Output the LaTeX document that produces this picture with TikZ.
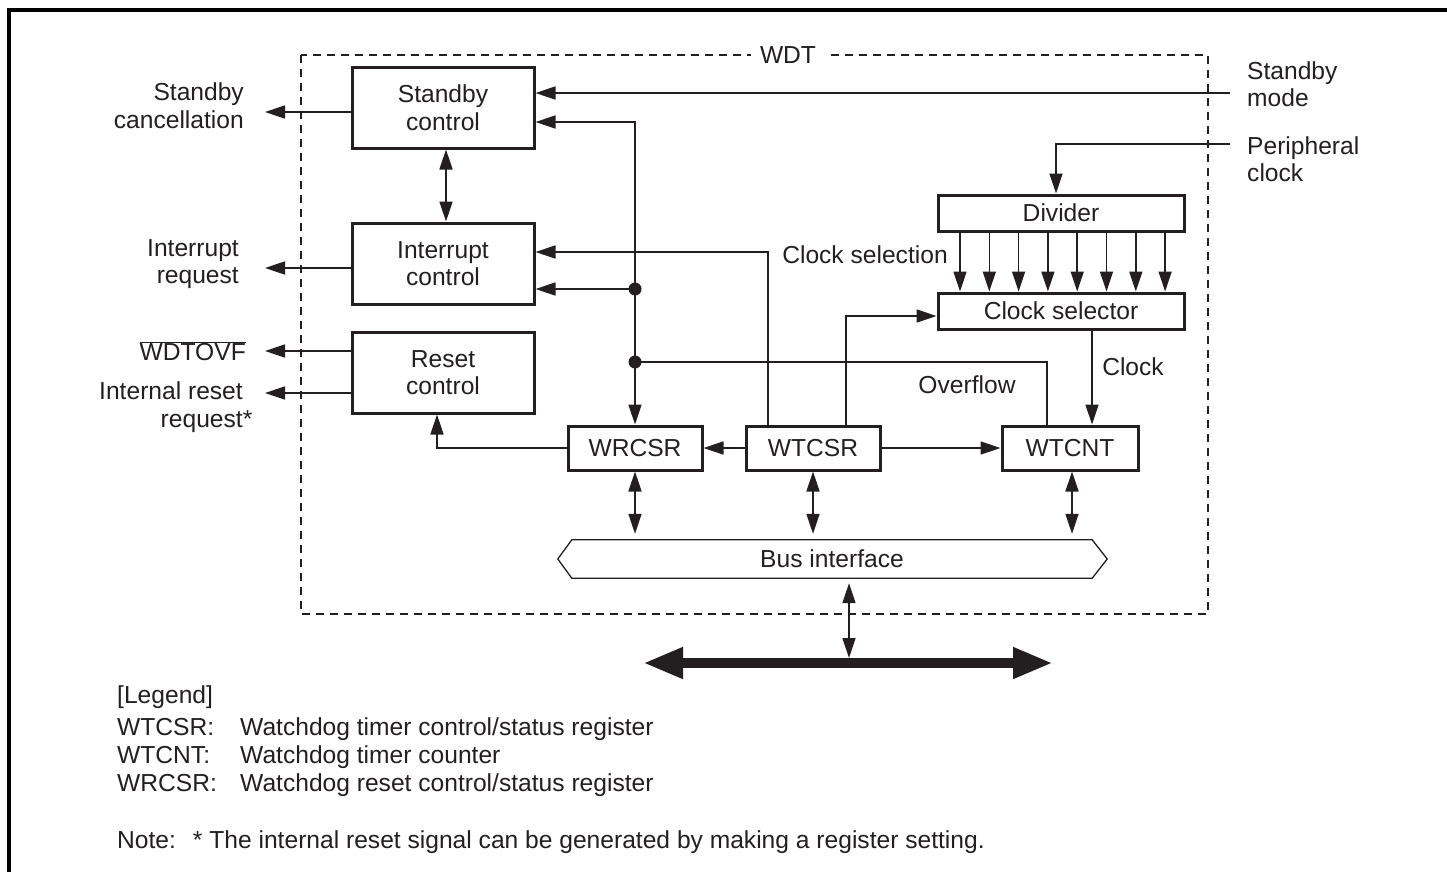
\documentclass[tikz,border=0pt]{standalone}
\usepackage{fontspec}
\setmainfont{Liberation Sans}
\usetikzlibrary{arrows.meta,calc}
\definecolor{ink}{RGB}{35,31,32}
\begin{document}
\begin{tikzpicture}[x=1pt,y=-1pt,
  every node/.style={font=\fontsize{24.6}{27.5}\selectfont, text=ink, inner sep=0pt},
  lin/.style={draw=ink, line width=1.6pt},
  arr/.style={lin, -{Triangle[length=20pt,width=13pt]}},
  darr/.style={lin, {Triangle[length=20pt,width=13pt]}-{Triangle[length=20pt,width=13pt]}},
  blk/.style={draw=ink, line width=3pt, align=center, minimum width=182pt, minimum height=81pt},
  reg/.style={draw=ink, line width=3pt, minimum width=134pt, minimum height=44pt},
  wide/.style={draw=ink, line width=3pt, minimum width=246pt, minimum height=36pt},
  dot/.style={circle, fill=ink, minimum size=13pt, inner sep=0pt}
]
\useasboundingbox (0,0) rectangle (1447,871);
% outer frame
\draw[draw=black, line width=4pt] (9,880) -- (9,10) -- (1460,10);
% WDT dashed region
\draw[draw=ink, line width=1.5pt, dash pattern=on 8pt off 6pt] (301,55) rectangle (1208,614);
\node[fill=white, inner xsep=9pt, inner ysep=3pt] (wdt) at (788,55) {WDT};

% blocks
\node[blk] (sbc) at (443,107.5) {Standby\\control};
\node[blk] (intc) at (443,263.5) {Interrupt\\control};
\node[blk] (rstc) at (443,372.5) {Reset\\control};
\node[wide] (div) at (1061,213) {Divider};
\node[wide] (csel) at (1061,311) {Clock selector};
\node[reg] (wrcsr) at (635,448) {WRCSR};
\node[reg] (wtcsr) at (813,448) {WTCSR};
\node[reg, minimum width=136pt] (wtcnt) at (1070,448) {WTCNT};
\node[minimum width=520pt, minimum height=38pt] (bus) at (832,559) {Bus interface};
\draw[lin, line width=1.3pt] ([xshift=-14pt]bus.west) -- (bus.north west) -- (bus.north east)
  -- ([xshift=15pt]bus.east) -- (bus.south east) -- (bus.south west) -- cycle;

% external labels
\node[anchor=east, align=right] (tsc) at (244,105.5) {Standby\\cancellation};
\node[anchor=east, align=right] (tir) at (239,264) {Interrupt\\request};
\node[anchor=east] (tov) at (246,351) {$\overline{\mbox{WDTOVF}}$};
\node[anchor=east, align=right] (tirr) at (243,407) {Internal reset\\request\rlap{*}};
\node[anchor=west, align=left] (tsm) at (1247,84) {Standby\\mode};
\node[anchor=west, align=left] (tpc) at (1247,159) {Peripheral\\clock};
\node (tcs) at (865,255) {Clock selection};
\node (tck) at (1133,367) {Clock};
\node (tof) at (967,385) {Overflow};

% coordinates
\coordinate (scan) at (265,112);
\coordinate (ireq) at (265,268);
\coordinate (ovf) at (265,351);
\coordinate (irst) at (265,393);
\coordinate (smode) at (1230,93);
\coordinate (pclk) at (1230,144);
\coordinate (j0) at (635,122);
\coordinate (j1) at (635,289);
\coordinate (j2) at (635,362);
\coordinate (bl) at (643,663);
\coordinate (br) at (1053,663);
\coordinate (bmid) at (849,658);

% outputs to the left
\draw[arr] (sbc.west |- scan) -- (scan);
\draw[arr] (intc.west |- ireq) -- (ireq);
\draw[arr] (rstc.west |- ovf) -- (ovf);
\draw[arr] (rstc.west |- irst) -- (irst);

% inputs from the right
\draw[arr] (smode) -- (sbc.east |- smode);
\draw[arr] (pclk) -| ([xshift=-5pt]div.north);

% standby <-> interrupt
\draw[darr] ([xshift=3pt]sbc.south) -- ([xshift=3pt]intc.north);

% overflow distribution
\draw[lin] ([xshift=-23pt]wtcnt.north) |- (j2);
\draw[arr] (j2) -- (j0) -- (sbc.east |- j0);
\draw[arr] (j1) -- (intc.east |- j1);
\draw[arr] (j2) -- (wrcsr.north);
\node[dot] (d1) at (j1) {};
\node[dot] (d2) at (j2) {};

% WTCSR outputs
\draw[arr] ([xshift=-45pt]wtcsr.north) |- ([yshift=11.5pt]intc.east);
\draw[arr] ([xshift=33pt]wtcsr.north) |- ([yshift=-5pt]csel.west);
\draw[arr] (wtcsr.west) -- (wrcsr.east);
\draw[arr] (wtcsr.east) -- (wtcnt.west);
\draw[arr] (wrcsr.west) -| ([xshift=-6pt]rstc.south);

% divider -> clock selector
\foreach \i in {0,...,7}{
  \pgfmathsetmacro\dx{-101+\i*29.3}
  \draw[arr] ([xshift=\dx pt]div.south) -- ([xshift=\dx pt]csel.south |- csel.north);
}
% clock
\draw[arr] ([xshift=31pt]csel.south) -- ([xshift=22pt]wtcnt.north);

% registers <-> bus interface
\draw[darr, shorten >=6pt] (wrcsr.south) -- (wrcsr.south |- bus.north);
\draw[darr, shorten >=6pt] (wtcsr.south) -- (wtcsr.south |- bus.north);
\draw[darr, shorten >=6pt] ([xshift=2pt]wtcnt.south) -- ([xshift=2pt]wtcnt.south |- bus.north);
\draw[darr, shorten <=5pt] ([xshift=17pt]bus.south) -- (bmid);

% system bus
\draw[draw=ink, line width=10pt, {Triangle[length=40pt,width=29pt]}-{Triangle[length=40pt,width=29pt]}] (bl) -- (br);

% legend
\node[anchor=base west] (lg) at (117,703) {[Legend]};
\node[anchor=base west] (l1a) at (117,735) {WTCSR:};
\node[anchor=base west] (l1b) at (240,735) {Watchdog timer control/status register};
\node[anchor=base west] (l2a) at (117,763) {WTCNT:};
\node[anchor=base west] (l2b) at (240,763) {Watchdog timer counter};
\node[anchor=base west] (l3a) at (117,791) {WRCSR:};
\node[anchor=base west] (l3b) at (240,791) {Watchdog reset control/status register};
\node[anchor=base west] (nt) at (117,848.5) {Note:\hspace{17pt}* The internal reset signal can be generated by making a register setting.};
\end{tikzpicture}
\end{document}
